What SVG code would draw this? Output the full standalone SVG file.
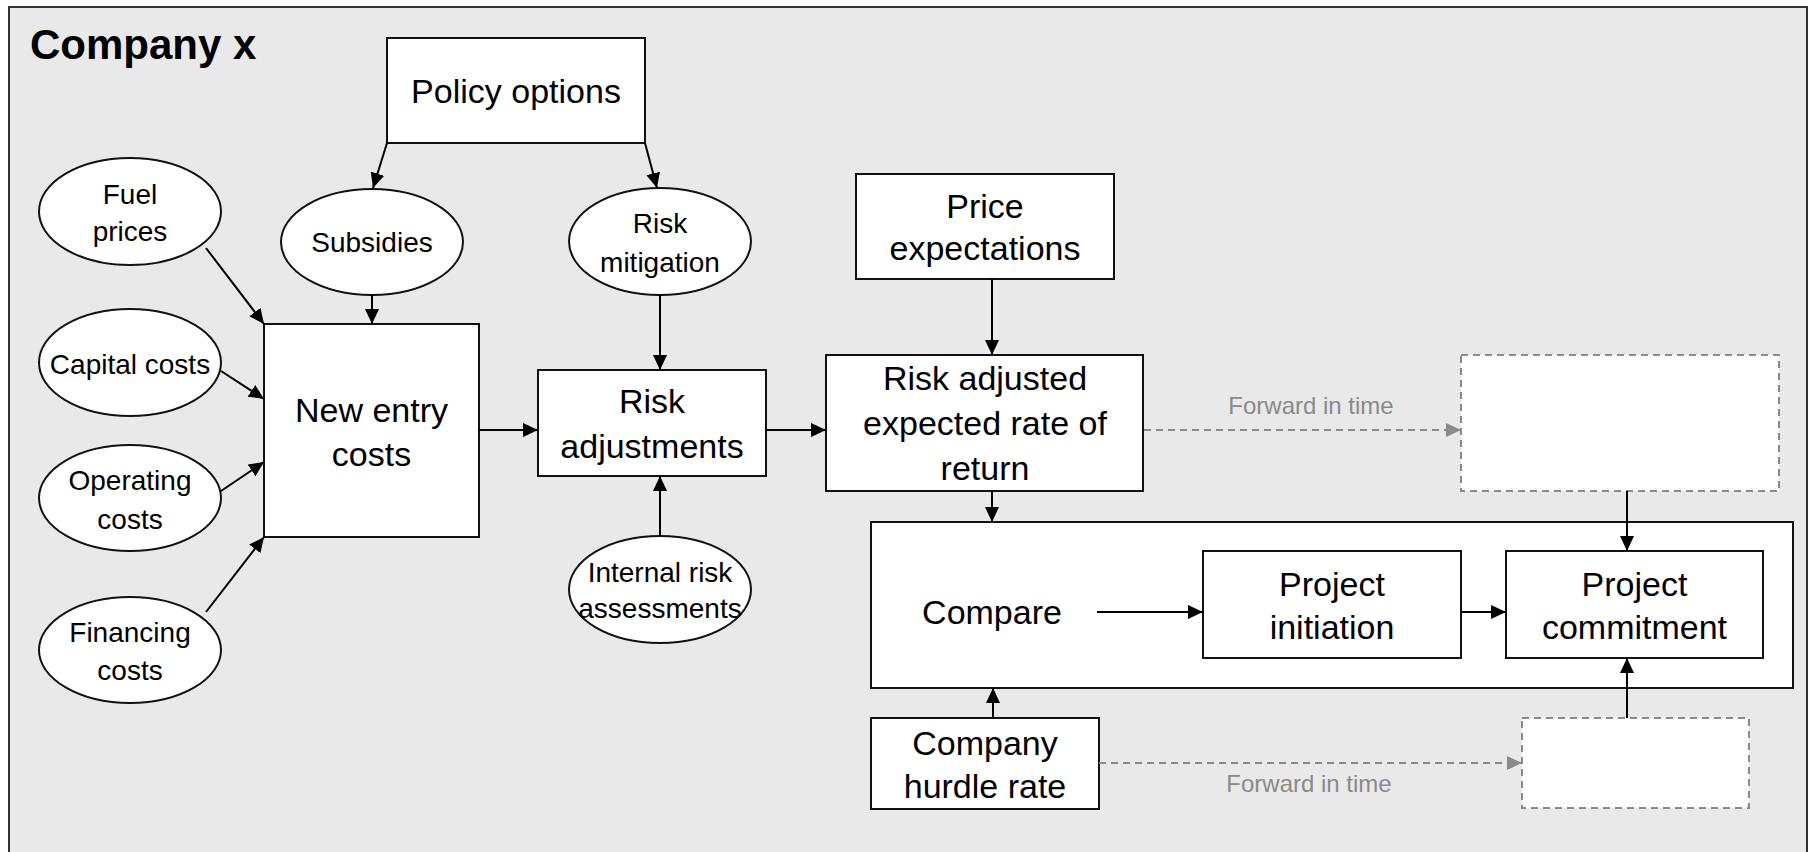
<svg xmlns="http://www.w3.org/2000/svg" width="1809" height="852" viewBox="0 0 1809 852">
<style>
.frame{fill:#e9e9e9;stroke:#333;stroke-width:2}
.box{fill:#fff;stroke:#111;stroke-width:2}
.dbox{fill:#fff;stroke:#8a8a8a;stroke-width:2;stroke-dasharray:7 5}
.ell{fill:#fff;stroke:#111;stroke-width:2}
.t{font-family:"Liberation Sans",Arial,sans-serif;font-size:34px;fill:#000;text-anchor:middle}
.te{font-family:"Liberation Sans",Arial,sans-serif;font-size:28px;fill:#000;text-anchor:middle}
.title{font-family:"Liberation Sans",Arial,sans-serif;font-size:42px;font-weight:bold;fill:#000}
.fw{font-family:"Liberation Sans",Arial,sans-serif;font-size:24px;fill:#8a8a8a;text-anchor:middle}
.c{stroke:#000;stroke-width:2;fill:none;marker-end:url(#ah)}
.cd{stroke:#8a8a8a;stroke-width:2;fill:none;stroke-dasharray:7 5;marker-end:url(#ahg)}
</style>
<defs>
<marker id="ah" markerUnits="userSpaceOnUse" markerWidth="16" markerHeight="14" refX="15" refY="7" orient="auto">
<path d="M0,0 L15,7 L0,14 z" fill="#000"/>
</marker>
<marker id="ahg" markerUnits="userSpaceOnUse" markerWidth="16" markerHeight="14" refX="15" refY="7" orient="auto">
<path d="M0,0 L15,7 L0,14 z" fill="#8a8a8a"/>
</marker>
</defs>
<rect class="frame" x="9" y="7" width="1798" height="860"/>
<text class="title" x="30" y="59">Company x</text>

<g id="policy-options">
<rect class="box" x="387" y="38" width="258" height="105"/>
<text class="t" x="516" y="103">Policy options</text>
</g>
<g id="fuel-prices">
<ellipse class="ell" cx="130" cy="211.5" rx="91" ry="53.5"/>
<text class="te" x="130" y="204">Fuel</text>
<text class="te" x="130" y="241">prices</text>
</g>
<g id="subsidies">
<ellipse class="ell" cx="372" cy="242" rx="91" ry="53"/>
<text class="te" x="372" y="252">Subsidies</text>
</g>
<g id="risk-mitigation">
<ellipse class="ell" cx="660" cy="241.5" rx="91" ry="53.5"/>
<text class="te" x="660" y="233">Risk</text>
<text class="te" x="660" y="272">mitigation</text>
</g>
<g id="capital-costs">
<ellipse class="ell" cx="130" cy="362.5" rx="91" ry="53.5"/>
<text class="te" x="130" y="374">Capital costs</text>
</g>
<g id="operating-costs">
<ellipse class="ell" cx="130" cy="498" rx="91" ry="53"/>
<text class="te" x="130" y="490">Operating</text>
<text class="te" x="130" y="529">costs</text>
</g>
<g id="financing-costs">
<ellipse class="ell" cx="130" cy="650" rx="91" ry="53"/>
<text class="te" x="130" y="642">Financing</text>
<text class="te" x="130" y="680">costs</text>
</g>
<g id="new-entry-costs">
<rect class="box" x="264" y="324" width="215" height="213"/>
<text class="t" x="371.5" y="422">New entry</text>
<text class="t" x="371.5" y="466">costs</text>
</g>
<g id="risk-adjustments">
<rect class="box" x="538" y="370" width="228" height="106"/>
<text class="t" x="652" y="413">Risk</text>
<text class="t" x="652" y="458">adjustments</text>
</g>
<g id="internal-risk">
<ellipse class="ell" cx="660" cy="589.5" rx="91" ry="53.5"/>
<text class="te" x="660" y="582">Internal risk</text>
<text class="te" x="660" y="618">assessments</text>
</g>
<g id="price-expectations">
<rect class="box" x="856" y="174" width="258" height="105"/>
<text class="t" x="985" y="218">Price</text>
<text class="t" x="985" y="260">expectations</text>
</g>
<g id="risk-adjusted-return">
<rect class="box" x="826" y="355" width="317" height="136"/>
<text class="t" x="985" y="390">Risk adjusted</text>
<text class="t" x="985" y="435">expected rate of</text>
<text class="t" x="985" y="480">return</text>
</g>
<g id="future-box-1">
<rect class="dbox" x="1461" y="355" width="318" height="136"/>
</g>
<g id="compare">
<rect class="box" x="871" y="522" width="922" height="166"/>
<text class="t" x="992" y="624">Compare</text>
</g>
<g id="project-initiation">
<rect class="box" x="1203" y="551" width="258" height="107"/>
<text class="t" x="1332" y="596">Project</text>
<text class="t" x="1332" y="639">initiation</text>
</g>
<g id="project-commitment">
<rect class="box" x="1506" y="551" width="257" height="107"/>
<text class="t" x="1634.5" y="596">Project</text>
<text class="t" x="1634.5" y="639">commitment</text>
</g>
<g id="hurdle-rate">
<rect class="box" x="871" y="718" width="228" height="91"/>
<text class="t" x="985" y="755">Company</text>
<text class="t" x="985" y="798">hurdle rate</text>
</g>
<g id="future-box-2">
<rect class="dbox" x="1522" y="718" width="227" height="90"/>
</g>

<g id="connectors">
<line class="c" x1="387" y1="143" x2="373" y2="188"/>
<line class="c" x1="645" y1="143" x2="657" y2="188"/>
<line class="c" x1="206" y1="248" x2="264" y2="324"/>
<line class="c" x1="221" y1="371" x2="264" y2="399"/>
<line class="c" x1="221" y1="491" x2="264" y2="462"/>
<line class="c" x1="206" y1="612" x2="264" y2="537"/>
<line class="c" x1="372" y1="295" x2="372" y2="324"/>
<line class="c" x1="660" y1="295" x2="660" y2="370"/>
<line class="c" x1="660" y1="536" x2="660" y2="476"/>
<line class="c" x1="479" y1="430" x2="538" y2="430"/>
<line class="c" x1="766" y1="430" x2="826" y2="430"/>
<line class="c" x1="992" y1="279" x2="992" y2="355"/>
<line class="c" x1="992" y1="491" x2="992" y2="522"/>
<line class="c" x1="993" y1="718" x2="993" y2="688"/>
<line class="c" x1="1097" y1="612" x2="1203" y2="612"/>
<line class="c" x1="1461" y1="612" x2="1506" y2="612"/>
<line class="c" x1="1627" y1="491" x2="1627" y2="551"/>
<line class="c" x1="1627" y1="718" x2="1627" y2="658"/>
<line class="cd" x1="1144" y1="430" x2="1461" y2="430"/>
<line class="cd" x1="1099" y1="763" x2="1522" y2="763"/>
<text class="fw" x="1311" y="414">Forward in time</text>
<text class="fw" x="1309" y="792">Forward in time</text>
</g>
</svg>
